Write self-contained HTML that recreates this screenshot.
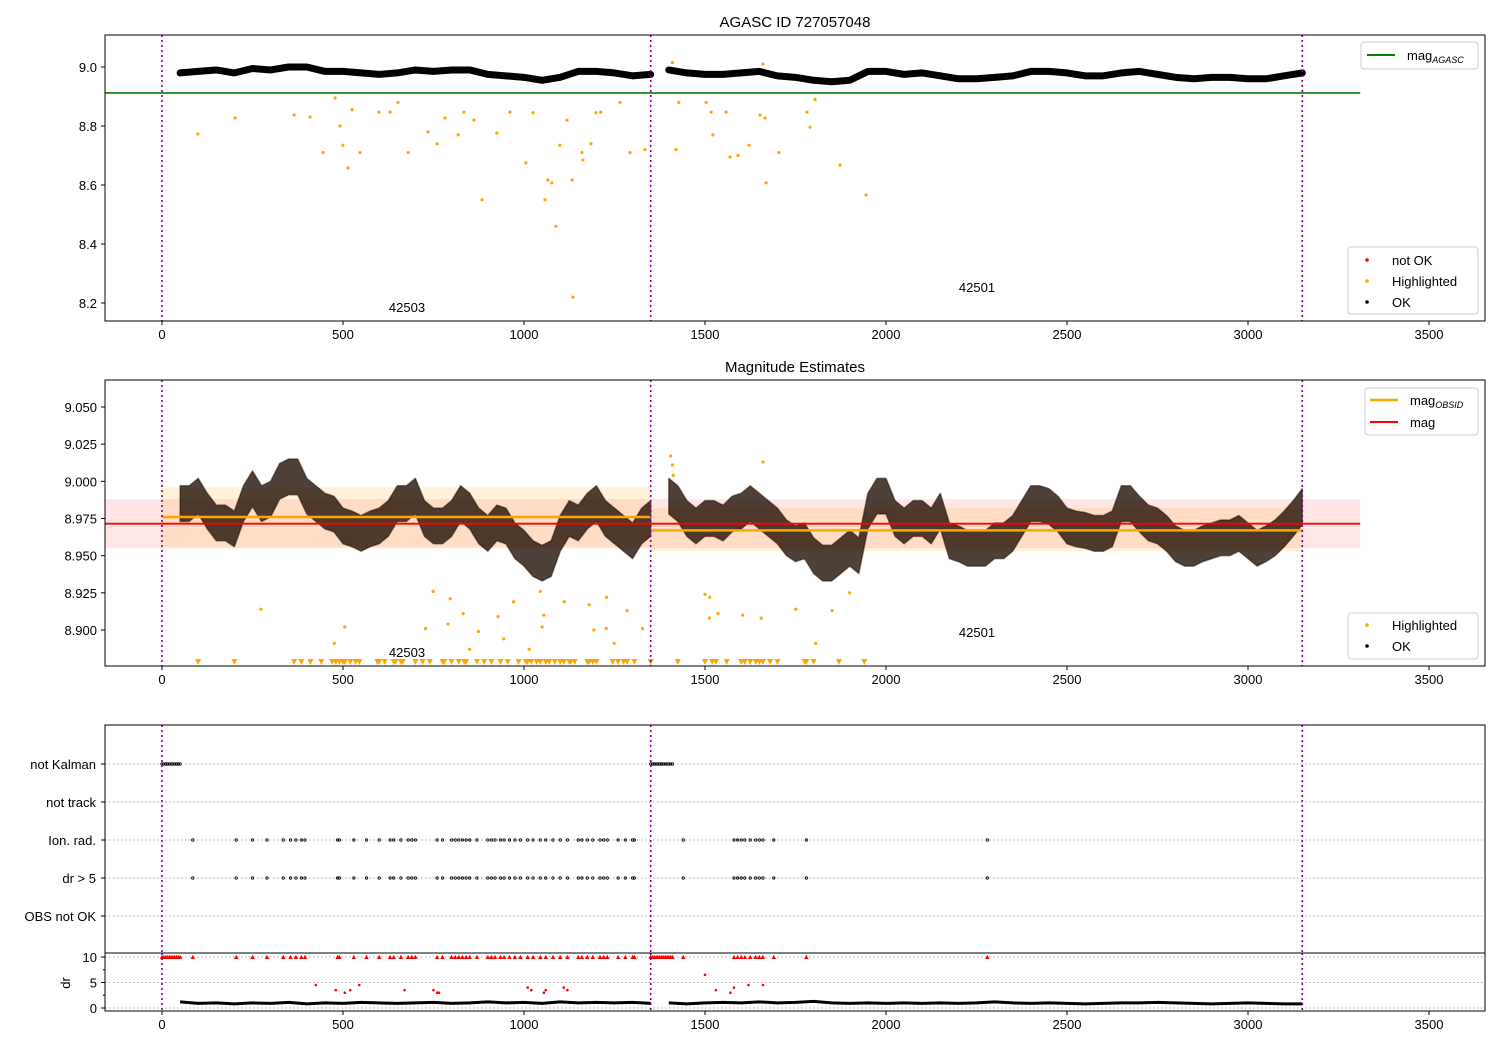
<!DOCTYPE html>
<html><head><meta charset="utf-8"><style>
body{margin:0;background:#fff;}
svg{display:block;font-family:"Liberation Sans","DejaVu Sans",sans-serif;}
</style></head><body>
<svg id="chart" width="1500" height="1050" viewBox="0 0 1500 1050"></svg>
<script>
// ---------- DATA ----------
const seg1T = [50,75,100,125,150,175,200,225,250,275,300,325,350,375,400,425,450,475,500,525,550,575,600,625,650,675,700,725,750,775,800,825,850,875,900,925,950,975,1000,1025,1050,1075,1100,1125,1150,1175,1200,1225,1250,1275,1300,1325,1350];
const seg1Mag = [8.985,8.985,8.99,8.98,8.972,8.972,8.968,8.985,8.995,8.985,8.988,9.0,9.003,9.003,8.99,8.985,8.98,8.978,8.97,8.968,8.965,8.968,8.97,8.975,8.985,8.985,8.99,8.975,8.97,8.97,8.975,8.985,8.98,8.97,8.965,8.972,8.97,8.96,8.955,8.948,8.945,8.948,8.965,8.975,8.972,8.98,8.985,8.975,8.97,8.965,8.96,8.97,8.975];
const seg2T = [1400,1425,1450,1475,1500,1525,1550,1575,1600,1625,1650,1675,1700,1725,1750,1775,1800,1825,1850,1875,1900,1925,1950,1975,2000,2025,2050,2075,2100,2125,2150,2175,2200,2225,2250,2275,2300,2325,2350,2375,2400,2425,2450,2475,2500,2525,2550,2575,2600,2625,2650,2675,2700,2725,2750,2775,2800,2825,2850,2875,2900,2925,2950,2975,3000,3025,3050,3075,3100,3125,3150];
const seg2Mag = [8.99,8.985,8.975,8.97,8.975,8.975,8.972,8.978,8.98,8.985,8.98,8.975,8.97,8.962,8.958,8.96,8.95,8.945,8.945,8.95,8.955,8.95,8.98,8.99,8.99,8.975,8.97,8.975,8.975,8.97,8.98,8.96,8.958,8.955,8.955,8.955,8.96,8.96,8.965,8.975,8.985,8.985,8.983,8.978,8.97,8.968,8.967,8.965,8.965,8.968,8.985,8.985,8.978,8.972,8.97,8.965,8.958,8.955,8.955,8.958,8.96,8.962,8.962,8.965,8.96,8.955,8.958,8.962,8.968,8.975,8.983];
const spread2 = 0.012;
const a1T = [50,100,150,200,250,300,350,400,450,500,550,600,650,700,750,800,850,900,950,1000,1050,1100,1150,1200,1250,1300,1350];
const a1Mag = [8.98,8.985,8.99,8.98,8.995,8.99,9.0,9.0,8.985,8.985,8.98,8.975,8.98,8.99,8.985,8.99,8.99,8.975,8.97,8.965,8.955,8.965,8.985,8.985,8.98,8.97,8.975];
const a2T = [1400,1450,1500,1550,1600,1650,1700,1750,1800,1850,1900,1950,2000,2050,2100,2150,2200,2250,2300,2350,2400,2450,2500,2550,2600,2650,2700,2750,2800,2850,2900,2950,3000,3050,3100,3150];
const a2Mag = [8.99,8.98,8.975,8.975,8.98,8.985,8.97,8.965,8.955,8.95,8.955,8.985,8.985,8.975,8.98,8.97,8.96,8.96,8.965,8.97,8.985,8.985,8.98,8.97,8.97,8.98,8.985,8.975,8.965,8.96,8.965,8.965,8.96,8.96,8.97,8.98];
const hl1T = [99,202,365,409,445,478,492,500,514,525,547,599,630,652,680,735,760,782,818,834,862,884,925,961,1005,1025,1058,1066,1077,1088,1099,1119,1133,1135,1160,1163,1185,1199,1212,1265,1293,1334,1410,1420,1428,1503,1517,1522,1558,1569,1591,1622,1652,1660,1666,1669,1704,1782,1790,1804,1873,1945];
const hl1Mag = [8.773,8.827,8.837,8.83,8.71,8.895,8.80,8.735,8.658,8.855,8.71,8.847,8.847,8.88,8.71,8.78,8.74,8.827,8.77,8.847,8.82,8.55,8.776,8.847,8.675,8.845,8.55,8.617,8.607,8.46,8.735,8.82,8.617,8.22,8.71,8.685,8.74,8.845,8.847,8.88,8.71,8.72,9.015,8.72,8.88,8.88,8.847,8.77,8.847,8.695,8.70,8.735,8.837,9.01,8.827,8.607,8.71,8.847,8.796,8.89,8.667,8.566];
const hl2T = [273,476,505,728,749,790,796,832,850,874,928,944,971,1014,1045,1050,1055,1111,1180,1193,1227,1228,1249,1285,1327,1405,1410,1412,1500,1512,1513,1536,1604,1655,1660,1751,1806,1851,1899];
const hl2Mag = [8.914,8.891,8.902,8.901,8.926,8.904,8.921,8.911,8.887,8.899,8.909,8.894,8.919,8.887,8.926,8.902,8.910,8.919,8.917,8.900,8.901,8.922,8.891,8.913,8.901,9.017,9.011,9.004,8.924,8.908,8.922,8.911,8.910,8.908,9.013,8.914,8.891,8.913,8.925];
const triT = [100,200,365,385,410,440,470,480,490,500,505,520,535,545,595,600,615,640,645,660,665,700,720,740,775,780,800,820,835,840,870,890,910,935,955,985,1005,1010,1020,1035,1045,1060,1070,1085,1100,1110,1125,1130,1140,1175,1180,1190,1200,1245,1260,1275,1285,1305,1350,1425,1500,1520,1530,1560,1600,1610,1625,1640,1650,1660,1680,1700,1775,1780,1800,1870,1940];
const flagT = [85,205,250,290,335,355,370,385,395,485,490,530,565,600,630,640,660,680,690,700,760,775,800,810,820,830,840,850,870,900,910,920,935,945,960,975,990,1010,1025,1045,1060,1080,1100,1120,1150,1160,1175,1190,1210,1220,1230,1260,1280,1300,1305,1440,1580,1590,1600,1610,1625,1640,1650,1660,1690,1780,2280];
const kalmanT = [0,5,10,15,20,25,30,35,40,45,50,1350,1355,1360,1365,1370,1375,1380,1385,1390,1395,1400,1405,1410];
const drT1 = [50,100,150,200,250,300,350,400,450,500,550,600,650,700,750,800,850,900,950,1000,1050,1100,1150,1200,1250,1300,1350];
const drV1 = [1.2,0.9,1.0,0.8,1.0,0.9,1.1,0.8,1.0,0.9,1.1,1.0,0.9,1.0,1.1,0.9,1.0,1.2,1.0,1.1,0.9,1.2,1.0,1.1,1.0,1.1,0.9];
const drT2 = [1400,1450,1500,1550,1600,1650,1700,1750,1800,1850,1900,1950,2000,2050,2100,2150,2200,2250,2300,2350,2400,2450,2500,2550,2600,2650,2700,2750,2800,2850,2900,2950,3000,3050,3100,3150];
const drV2 = [1.0,0.8,1.0,1.1,1.0,1.2,1.0,1.1,1.3,1.0,0.9,1.0,0.9,1.0,0.9,1.0,0.9,1.0,1.2,1.0,0.9,1.0,0.9,0.8,0.9,1.0,1.0,1.1,1.0,0.9,0.8,0.9,1.0,0.9,0.8,0.8];
const drRedT = [425,480,505,520,545,670,750,760,765,1010,1020,1055,1060,1110,1120,1500,1530,1570,1580,1620,1660];
const drRedV = [4.5,3.5,3.0,3.5,4.5,3.5,3.5,3.0,3.0,4.0,3.5,3.0,3.5,4.0,3.5,6.5,3.5,3.0,4.0,4.5,4.5];
const xTicks = [0,500,1000,1500,2000,2500,3000,3500];
const y1Ticks = [8.2,8.4,8.6,8.8,9.0];
const y2Ticks = [8.9,8.925,8.95,8.975,9.0,9.025,9.05];
const flagLabels = ['not Kalman','not track','Ion. rad.','dr > 5','OBS not OK'];
const obsBounds = [0,1350,3150];

// ---------- SCALES ----------
const L=105,R=1485;
const X = t => 162 + t*0.362;
const Y1 = v => 67 - (v-9.0)*295;
const Y2 = v => 630 - (v-8.9)*1486.7;
const YF = i => 764 + i*38;
const YD = v => 1008 - v*5.1;
const NS='http://www.w3.org/2000/svg';
const svg=document.getElementById('chart');
function mk(tag,attrs,parent){const e=document.createElementNS(NS,tag);for(const k in attrs)e.setAttribute(k,attrs[k]);(parent||svg).appendChild(e);return e;}
function txt(s,x,y,attrs,parent){const e=mk('text',Object.assign({x:x,y:y,'font-size':13,fill:'#000'},attrs||{}),parent);e.textContent=s;return e;}

function xAxis(yb,g){
  xTicks.forEach(t=>{
    const tk=mk('line',{x1:X(t),x2:X(t),y1:yb,y2:yb+4,stroke:'#000'},g);
    
    
    const lb=txt(String(t),X(t),yb+18,{'text-anchor':'middle'},g);
    
    
  });
}
function vlines(yt,yb,g){
  obsBounds.forEach(t=>{
    const l=mk('line',{x1:X(t),x2:X(t),y1:yt,y2:yb,stroke:'#800080','stroke-width':1.6,'stroke-dasharray':'2,3'},g);
    
    
  });
}

// Panel 1
const g1=mk('g',{});


const t1=txt('AGASC ID 727057048',795,27,{'text-anchor':'middle','font-size':15},g1);


y1Ticks.forEach(v=>{
  const tk=mk('line',{x1:L-4,x2:L,y1:Y1(v),y2:Y1(v),stroke:'#000'},g1);
  
  
  const lb=txt(v.toFixed(1),L-8,Y1(v)+5,{'text-anchor':'end'},g1);
  
  
});
xAxis(321,g1);
const gl=mk('line',{x1:L,x2:X(3310),y1:Y1(8.912),y2:Y1(8.912),stroke:'#008000','stroke-width':1.6},g1);


[[a1T,a1Mag],[a2T,a2Mag]].forEach(([ts,vs])=>{
  const p=mk('polyline',{points:ts.map((t,i)=>X(t)+','+Y1(vs[i])).join(' '),fill:'none',stroke:'#000','stroke-width':7,'stroke-linejoin':'round','stroke-linecap':'round'},g1);
  
  
});
hl1T.forEach((t,i)=>{
  const c=mk('circle',{cx:X(t),cy:Y1(hl1Mag[i]),r:1.6,fill:'orange'},g1);
  
  
});
vlines(35,321,g1);
txt('42503',407,312,{'text-anchor':'middle'},g1);
txt('42501',977,292,{'text-anchor':'middle'},g1);
mk('rect',{x:L,y:35,width:R-L,height:286,fill:'none',stroke:'#000'},g1);

const lg1=mk('g',{},g1);


mk('rect',{x:1361,y:42,width:117,height:27,rx:3,fill:'#fff',stroke:'#ccc'},lg1);
mk('line',{x1:1367,x2:1395,y1:55,y2:55,stroke:'#008000','stroke-width':2},lg1);
const lt=txt('mag',1407,60,{},lg1);
const sb=mk('tspan',{'font-size':9,'font-style':'italic',dy:3},lt);sb.textContent='AGASC';
const lg2=mk('g',{},g1);


mk('rect',{x:1348,y:247,width:130,height:67,rx:3,fill:'#fff',stroke:'#ccc'},lg2);
[['red','not OK',260],['orange','Highlighted',281],['#000','OK',302]].forEach(([c,s,y])=>{
  mk('circle',{cx:1367,cy:y,r:1.8,fill:c},lg2);
  const e=txt(s,1392,y+5,{},lg2);
  
  
});

// Panel 2
const g2=mk('g',{});


const t2=txt('Magnitude Estimates',795,372,{'text-anchor':'middle','font-size':15},g2);


y2Ticks.forEach(v=>{
  const tk=mk('line',{x1:L-4,x2:L,y1:Y2(v),y2:Y2(v),stroke:'#000'},g2);
  
  
  const lb=txt(v.toFixed(3),L-8,Y2(v)+5,{'text-anchor':'end'},g2);
  
  
});
xAxis(666,g2);
const pb=mk('rect',{x:L,y:Y2(8.988),width:X(3310)-L,height:Y2(8.955)-Y2(8.988),fill:'rgba(255,0,0,0.1)'},g2);


const ob1=mk('rect',{x:X(0),y:Y2(8.996),width:X(1350)-X(0),height:Y2(8.956)-Y2(8.996),fill:'rgba(255,165,0,0.15)'},g2);


const ob2=mk('rect',{x:X(1350),y:Y2(8.982),width:X(3150)-X(1350),height:Y2(8.953)-Y2(8.982),fill:'rgba(255,165,0,0.15)'},g2);


[[seg1T,seg1Mag],[seg2T,seg2Mag]].forEach(([ts,vs])=>{
  const up=ts.map((t,i)=>X(t)+','+Y2(vs[i]+spread2));
  const dn=ts.map((t,i)=>X(t)+','+Y2(vs[i]-spread2)).reverse();
  const p=mk('polygon',{points:up.concat(dn).join(' '),fill:'#1e0c00','fill-opacity':0.78,stroke:'#1e0c00','stroke-opacity':0.5,'stroke-width':1.5,'stroke-linejoin':'round'},g2);
  
  
});
const om1=mk('line',{x1:X(0),x2:X(1350),y1:Y2(8.976),y2:Y2(8.976),stroke:'orange','stroke-width':2.5},g2);


const om2=mk('line',{x1:X(1350),x2:X(3150),y1:Y2(8.967),y2:Y2(8.967),stroke:'orange','stroke-width':2.5},g2);


const rl=mk('line',{x1:L,x2:X(3310),y1:Y2(8.9715),y2:Y2(8.9715),stroke:'red','stroke-width':1.8},g2);


hl2T.forEach((t,i)=>{
  const c=mk('circle',{cx:X(t),cy:Y2(hl2Mag[i]),r:1.6,fill:'orange'},g2);
  
  
});
triT.forEach(t=>{
  const x=X(t),y=662;
  const p=mk('polygon',{points:(x-3)+','+(y-3)+' '+(x+3)+','+(y-3)+' '+x+','+(y+3),fill:'orange'},g2);
  
  
});
vlines(380,666,g2);
txt('42503',407,657,{'text-anchor':'middle'},g2);
txt('42501',977,637,{'text-anchor':'middle'},g2);
mk('rect',{x:L,y:380,width:R-L,height:286,fill:'none',stroke:'#000'},g2);
const lg3=mk('g',{},g2);


mk('rect',{x:1365,y:388,width:113,height:47,rx:3,fill:'#fff',stroke:'#ccc'},lg3);
mk('line',{x1:1370,x2:1398,y1:400,y2:400,stroke:'orange','stroke-width':2.5},lg3);
const lt2=txt('mag',1410,405,{},lg3);
const sb2=mk('tspan',{'font-size':9,'font-style':'italic',dy:3},lt2);sb2.textContent='OBSID';
mk('line',{x1:1370,x2:1398,y1:422,y2:422,stroke:'red','stroke-width':2},lg3);
txt('mag',1410,427,{},lg3);
const lg4=mk('g',{},g2);


mk('rect',{x:1348,y:613,width:130,height:46,rx:3,fill:'#fff',stroke:'#ccc'},lg4);
[['orange','Highlighted',625],['#000','OK',646]].forEach(([c,s,y])=>{
  mk('circle',{cx:1367,cy:y,r:1.8,fill:c},lg4);
  const e=txt(s,1392,y+5,{},lg4);
  
  
});

// Panel 3 flags
const g3=mk('g',{});


flagLabels.forEach((s,i)=>{
  mk('line',{x1:L,x2:R,y1:YF(i),y2:YF(i),stroke:'#aaa','stroke-dasharray':'1.5,2.5'},g3);
  mk('line',{x1:L-4,x2:L,y1:YF(i),y2:YF(i),stroke:'#000'},g3);
  const e=txt(s,L-9,YF(i)+5,{'text-anchor':'end'},g3);
  
  
});
kalmanT.forEach(t=>{
  const c=mk('circle',{cx:X(t),cy:YF(0),r:1.2,fill:'none',stroke:'#000','stroke-width':0.8},g3);
  
  
});
flagT.forEach(t=>{
  [2,3].forEach(i=>{
    const c=mk('circle',{cx:X(t),cy:YF(i),r:1.2,fill:'none',stroke:'#000','stroke-width':0.8},g3);
    
    
  });
});
vlines(725,953,g3);
mk('rect',{x:L,y:725,width:R-L,height:228,fill:'none',stroke:'#000'},g3);

// Panel 4 dr
const g4=mk('g',{});


[10,5,0].forEach(v=>{
  mk('line',{x1:L,x2:R,y1:YD(v),y2:YD(v),stroke:'#aaa','stroke-dasharray':'1.5,2.5'},g4);
  mk('line',{x1:L-4,x2:L,y1:YD(v),y2:YD(v),stroke:'#000'},g4);
  const e=txt(String(v),L-8,YD(v)+5,{'text-anchor':'end'},g4);
  
  
});
[7.5,2.5].forEach(v=>mk('line',{x1:L-2,x2:L,y1:YD(v),y2:YD(v),stroke:'#000'},g4));
const dl=txt('dr',70,983,{'text-anchor':'middle',transform:'rotate(-90 70 983)'},g4);


xAxis(1011,g4);
[[drT1,drV1],[drT2,drV2]].forEach(([ts,vs])=>{
  const p=mk('polyline',{points:ts.map((t,i)=>X(t)+','+YD(vs[i])).join(' '),fill:'none',stroke:'#000','stroke-width':3,'stroke-linejoin':'round'},g4);
  
  
});
kalmanT.concat(flagT).forEach(t=>{
  const x=X(t),y=YD(10);
  const p=mk('polygon',{points:(x-2.2)+','+(y+2)+' '+(x+2.2)+','+(y+2)+' '+x+','+(y-2.2),fill:'red'},g4);
  
  
});
drRedT.forEach((t,i)=>{
  const c=mk('circle',{cx:X(t),cy:YD(drRedV[i]),r:1.3,fill:'red'},g4);
  
  
});
vlines(953,1011,g4);
mk('rect',{x:L,y:953,width:R-L,height:58,fill:'none',stroke:'#000'},g4);
</script>
</body></html>
